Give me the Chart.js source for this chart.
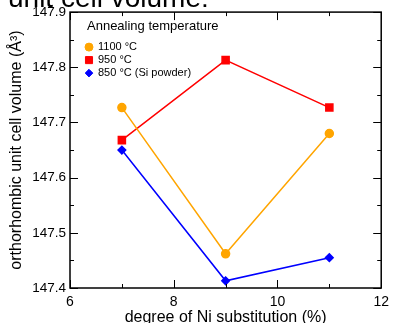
<!DOCTYPE html>
<html>
<head>
<meta charset="utf-8">
<script src="https://cdn.jsdelivr.net/npm/chart.js@4"></script>
<style>
  html, body { margin: 0; padding: 0; background: #fff; overflow: hidden; }
  #wrap { width: 395px; height: 323px; position: relative; }
</style>
</head>
<body>
<div id="wrap"><canvas id="volchart"></canvas></div>
<script>
const niPercent = [7, 9, 11];
const vol1100 = [147.727, 147.462, 147.680];
const vol950 = [147.668, 147.813, 147.727];
const vol850 = [147.650, 147.413, 147.455];
const seriesLabels = ['1100 °C', '950 °C', '850 °C (Si powder)'];
const xTicks = [6, 8, 10, 12];
const yTicks = [147.4, 147.5, 147.6, 147.7, 147.8, 147.9];

const font = 'Liberation Sans, Arial, sans-serif';

function pts(ys) {
  return niPercent.map((x, i) => ({ x: x, y: ys[i] }));
}

// inward ticks on all four sides, plus the box, legend and the clipped heading
const framePlugin = {
  id: 'frame',
  afterDraw(chart) {
    const ctx = chart.ctx;
    const a = chart.chartArea;
    const xs = chart.scales.x, ys = chart.scales.y;
    ctx.save();
    ctx.strokeStyle = '#000';
    ctx.lineWidth = 1.5;
    ctx.strokeRect(a.left, a.top, a.right - a.left, a.bottom - a.top);
    ctx.lineWidth = 1;
    for (let v = 6; v <= 12; v += 1) {
      const px = Math.round(xs.getPixelForValue(v)) + 0.5;
      const len = v % 2 === 0 ? 8 : 4;
      ctx.beginPath();
      ctx.moveTo(px, a.bottom); ctx.lineTo(px, a.bottom - len);
      ctx.moveTo(px, a.top); ctx.lineTo(px, a.top + len);
      ctx.stroke();
    }
    for (let k = 0; k <= 10; k++) {
      const v = 147.4 + k * 0.05;
      const py = Math.round(ys.getPixelForValue(v)) + 0.5;
      const len = k % 2 === 0 ? 8 : 4;
      ctx.beginPath();
      ctx.moveTo(a.left, py); ctx.lineTo(a.left + len, py);
      ctx.moveTo(a.right, py); ctx.lineTo(a.right - len, py);
      ctx.stroke();
    }

    // legend
    ctx.fillStyle = '#000';
    ctx.textBaseline = 'middle';
    ctx.textAlign = 'left';
    ctx.font = '13px ' + font;
    ctx.fillText('Annealing temperature', a.left + 17, a.top + 14);
    ctx.font = '11px ' + font;
    chart.data.datasets.forEach((ds, i) => {
      const y = a.top + 35 + i * 13;
      ctx.fillStyle = ds.backgroundColor;
      ctx.strokeStyle = ds.borderColor;
      Chart.helpers.drawPoint(ctx, { pointStyle: ds.pointStyle, radius: ds.pointRadius, rotation: 0, borderWidth: 1 }, a.left + 19, y);
      ctx.fillStyle = '#000';
      ctx.fillText(ds.label, a.left + 28, y);
    });

    // heading, mostly outside the window
    ctx.font = '28px ' + font;
    ctx.textBaseline = 'alphabetic';
    ctx.fillText('unit cell volume:', 8, 7);
    ctx.restore();
  }
};

new Chart(document.getElementById('volchart'), {
  type: 'line',
  data: {
    datasets: [
      { label: seriesLabels[0], data: pts(vol1100), borderColor: '#ffa500', backgroundColor: '#ffa500',
        pointStyle: 'circle', pointRadius: 4, borderWidth: 1.5 },
      { label: seriesLabels[1], data: pts(vol950), borderColor: '#ff0000', backgroundColor: '#ff0000',
        pointStyle: 'rect', pointRadius: 5, borderWidth: 1.5 },
      { label: seriesLabels[2], data: pts(vol850), borderColor: '#0000ff', backgroundColor: '#0000ff',
        pointStyle: 'rectRot', pointRadius: 3.8, borderWidth: 1.5 }
    ]
  },
  options: {
    responsive: true,
    maintainAspectRatio: false,
    animation: false,
    layout: { padding: { top: 11, right: 7, left: 0, bottom: 0 } },
    plugins: {
      legend: { display: false },
      tooltip: { enabled: false }
    },
    scales: {
      x: {
        type: 'linear',
        min: 6, max: 12,
        afterFit(s) { s.height = 35; },
        afterBuildTicks(s) { s.ticks = xTicks.map(v => ({ value: v })); },
        grid: { display: false, drawTicks: false },
        border: { display: false },
        ticks: { color: '#000', padding: 6, font: { family: font, size: 14 } },
        title: { display: true, text: 'degree of Ni substitution (%)', color: '#000',
          font: { family: font, size: 16 }, padding: { top: 0, bottom: -4 } }
      },
      y: {
        type: 'linear',
        min: 147.4, max: 147.9,
        afterFit(s) { s.width = 70; },
        afterBuildTicks(s) { s.ticks = yTicks.map(v => ({ value: v })); },
        grid: { display: false, drawTicks: false },
        border: { display: false },
        ticks: { color: '#000', padding: 4, font: { family: font, size: 13.5 },
          callback: v => Number(v).toFixed(1) },
        title: { display: true, text: 'orthorhombic unit cell volume (Å³)', color: '#000',
          font: { family: font, size: 16 }, padding: { top: 7, bottom: 0 } }
      }
    }
  },
  plugins: [framePlugin]
});
</script>
</body>
</html>
